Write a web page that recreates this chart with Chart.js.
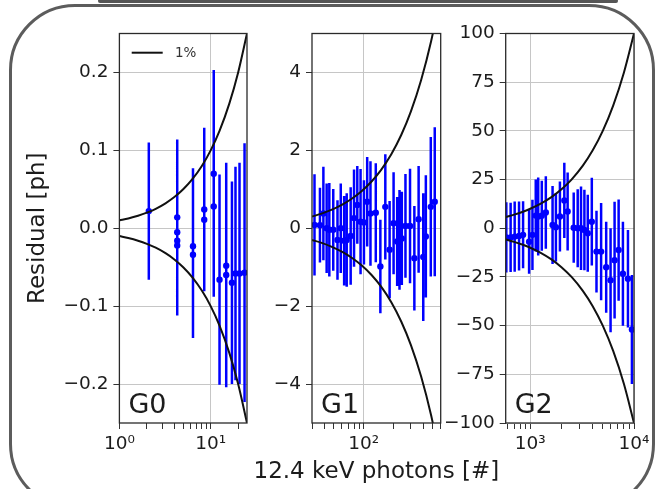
<!DOCTYPE html>
<html><head><meta charset="utf-8">
<script src="https://cdn.jsdelivr.net/npm/chart.js@4.4.1/dist/chart.umd.min.js"></script>
<style>
html,body{margin:0;padding:0;background:#fff;width:657px;height:489px;overflow:hidden;}
#wrap{position:relative;width:657px;height:489px;overflow:hidden;}
canvas{position:absolute;left:0;top:0;}
#frame{position:absolute;left:9px;top:4px;width:640px;height:500px;border:3px solid #5c5c5c;border-radius:66px;}
#topbar{position:absolute;left:98px;top:-1px;width:520px;height:4px;background:#555;border-radius:2px;}
</style></head><body>
<div id="wrap">
<div id="frame"></div><div id="topbar"></div>
<canvas id="c0" width="657" height="489"></canvas>
<canvas id="c1" width="657" height="489"></canvas>
<canvas id="c2" width="657" height="489"></canvas>
</div>
<script>
// ---------- G0 ----------
const g0X   = [2.1, 4.3, 4.3, 4.3, 4.3, 6.4, 6.4, 8.5, 8.5, 10.8, 10.8, 12.5, 14.8, 14.8, 17.1, 18.7, 20.7, 23.5];
const g0Y   = [0.022, 0.014, -0.005, -0.016, -0.022, -0.023, -0.034, 0.024, 0.011, 0.07, 0.028, -0.066, -0.048, -0.06, -0.07, -0.058, -0.058, -0.057];
const g0Err = [0.088, 0.1, 0.1, 0.095, 0.09, 0.1, 0.107, 0.105, 0.09, 0.133, 0.116, 0.135, 0.13, 0.144, 0.13, 0.137, 0.142, 0.166];
const g0CurveX  = [1, 1.25, 1.6, 2, 2.5, 3.2, 4, 5, 6.3, 8, 10, 12.5, 16, 20, 25];
const g0CurveUp = [0.01, 0.0125, 0.016, 0.02, 0.025, 0.032, 0.04, 0.05, 0.063, 0.08, 0.1, 0.125, 0.16, 0.2, 0.25];
const g0CurveLo = [-0.01, -0.0125, -0.016, -0.02, -0.025, -0.032, -0.04, -0.05, -0.063, -0.08, -0.1, -0.125, -0.16, -0.2, -0.25];
const g0XTicks  = [1, 2, 3, 4, 5, 6, 7, 8, 9, 10, 20];
const g0XLabels = ['10⁰', '', '', '', '', '', '', '', '', '10¹', ''];
const g0YTicks  = [-0.2, -0.1, 0, 0.1, 0.2];
const g0YLabels = ['−0.2', '−0.1', '0.0', '0.1', '0.2'];

// ---------- G1 ----------
const g1X   = [31.8, 36.1, 39.1, 42.2, 44.9, 49.2, 54.3, 58.6, 63.4, 67.3, 73.8, 79.8, 86.1, 92.9, 100.5, 108.4, 117,
               132.4, 147.3, 165.3, 182.7, 200.4, 217.8, 230, 242.7, 264.2, 293.8, 325, 358.9, 399.9, 424.6, 476.4, 522.4];
const g1Y   = [0.085, 0.08, 0.38, 0.0, -0.04, -0.04, -0.3, 0.0, -0.32, -0.3, -0.2, 0.26, 0.6, 0.17, 0.15, 0.68, 0.38,
               0.4, -0.98, 0.55, -0.55, 0.13, -0.34, -0.3, -0.26, 0.06, 0.06, -0.77, 0.23, -0.74, -0.21, 0.55, 0.68];
const g1Err = [1.3, 0.96, 1.2, 1.15, 1.2, 1.05, 1.02, 1.15, 1.15, 1.2, 1.25, 1.25, 1.0, 1.35, 1.08, 1.15, 1.34,
               1.27, 1.2, 1.35, 1.25, 1.31, 1.14, 1.28, 1.2, 1.33, 1.47, 1.34, 1.37, 1.64, 1.57, 1.79, 1.91];
const g1CurveX  = [30, 37.5, 47, 60, 75, 95, 120, 150, 190, 240, 300, 380, 480, 600];
const g1CurveUp = [0.3, 0.375, 0.47, 0.6, 0.75, 0.95, 1.2, 1.5, 1.9, 2.4, 3.0, 3.8, 4.8, 6.0];
const g1CurveLo = [-0.3, -0.375, -0.47, -0.6, -0.75, -0.95, -1.2, -1.5, -1.9, -2.4, -3.0, -3.8, -4.8, -6.0];
const g1XTicks  = [30, 40, 50, 60, 70, 80, 90, 100, 200, 300, 400, 500, 600];
const g1XLabels = ['', '', '', '', '', '', '', '10²', '', '', '', '', ''];
const g1YTicks  = [-4, -2, 0, 2, 4];
const g1YLabels = ['−4', '−2', '0', '2', '4'];

// ---------- G2 ----------
const g2X   = [588, 647, 708, 780, 853, 975, 1050, 1130, 1193, 1292, 1413, 1641, 1767, 1932, 2130, 2293,
               2624, 2867, 3086, 3326, 3583, 3920, 4350, 4820, 5395, 5945, 6500, 7110, 7820, 8745, 9550];
const g2Y   = [-4.7, -4.7, -4.3, -4.0, -3.4, -6.9, -3.4, 6.5, 6.0, 6.4, 8.1, 1.7, 0.5, 6.0, 14.3, 8.6,
               0.3, 0.0, 0.0, -0.9, -2.6, 3.4, -12, -12, -20, -26.7, -16.4, -11.2, -23.3, -25.9, -52];
const g2Err = [18, 17.8, 18, 17.7, 17.2, 16.5, 18, 18.5, 20, 18, 18.6, 20, 17.6, 18, 19.3, 20,
               18, 20, 21.5, 20.7, 19.8, 22.5, 21, 25, 23.4, 26.7, 30, 26, 26.7, 25, 28];
const g2CurveX  = [580, 700, 850, 1000, 1250, 1600, 2000, 2500, 3200, 4000, 5000, 6300, 8000, 10000];
const g2CurveUp = [5.8, 7, 8.5, 10, 12.5, 16, 20, 25, 32, 40, 50, 63, 80, 100];
const g2CurveLo = [-5.8, -7, -8.5, -10, -12.5, -16, -20, -25, -32, -40, -50, -63, -80, -100];
const g2XTicks  = [600, 700, 800, 900, 1000, 2000, 3000, 4000, 5000, 6000, 7000, 8000, 9000, 10000];
const g2XLabels = ['', '', '', '', '10³', '', '', '', '', '', '', '', '', '10⁴'];
const g2YTicks  = [-100, -75, -50, -25, 0, 25, 50, 75, 100];
const g2YLabels = ['−100', '−75', '−50', '−25', '0', '25', '50', '75', '100'];

const legendLabel = '1%';
const yTitle = 'Residual [ph]';
const xTitle = '12.4 keV photons [#]';

const FONT = 'DejaVu Sans';
const TXT = '#1c1c1c';
const BLUE = '#0000ff';
const GRID = '#c6c6c6';

function pts(xs, ys) { return xs.map((x, i) => ({x: x, y: ys[i]})); }
function errSegments(xs, ys, es) {
  const out = [];
  xs.forEach((x, i) => { out.push({x: x, y: ys[i] - es[i]}, {x: x, y: ys[i] + es[i]}, {x: x, y: null}); });
  return out;
}

const decoPlugin = {
  id: 'deco',
  afterDatasetsDraw(chart, args, opts) {
    const ctx = chart.ctx, a = chart.chartArea;
    ctx.save();
    ctx.strokeStyle = '#2a2a2a'; ctx.lineWidth = 1.3;
    ctx.strokeRect(a.left, a.top, a.right - a.left, a.bottom - a.top);
    ctx.fillStyle = TXT;
    ctx.font = '27px "' + FONT + '"';
    ctx.textBaseline = 'alphabetic'; ctx.textAlign = 'left';
    ctx.fillText(opts.label, a.left + 9, a.bottom - 9.7);
    if (opts.legend) {
      ctx.strokeStyle = '#111'; ctx.lineWidth = 2;
      ctx.beginPath(); ctx.moveTo(a.left + 12.3, a.top + 19.2); ctx.lineTo(a.left + 43.3, a.top + 19.2); ctx.stroke();
      ctx.font = '13.5px "' + FONT + '"'; ctx.fillStyle = '#333'; ctx.textBaseline = 'middle';
      ctx.fillText(opts.legend, a.left + 55.6, a.top + 19.5);
    }
    ctx.restore();
  },
  afterDraw(chart, args, opts) {
    if (!opts.xTitle) return;
    const ctx = chart.ctx, a = chart.chartArea;
    ctx.save();
    ctx.fillStyle = TXT;
    ctx.font = '23px "' + FONT + '"';
    ctx.textAlign = 'center'; ctx.textBaseline = 'alphabetic';
    ctx.fillText(opts.xTitle, (a.left + a.right) / 2, a.bottom + 55);
    ctx.restore();
  }
};

function makePanel(id, p) {
  return new Chart(document.getElementById(id), {
    type: 'line',
    data: { datasets: [
      {label: legendLabel, data: pts(p.cx, p.cu), borderColor: '#111', borderWidth: 2, pointRadius: 0, cubicInterpolationMode: 'monotone'},
      {label: '', data: pts(p.cx, p.cl), borderColor: '#111', borderWidth: 2, pointRadius: 0, cubicInterpolationMode: 'monotone'},
      {label: 'pts', data: pts(p.x, p.y), showLine: false, pointRadius: 3.2, pointBackgroundColor: BLUE, pointBorderWidth: 0, pointBorderColor: BLUE},
      {label: 'err', data: errSegments(p.x, p.y, p.e), borderColor: BLUE, borderWidth: 2.5, pointRadius: 0, spanGaps: false, borderCapStyle: 'butt'}
    ]},
    options: {
      responsive: false, animation: false, devicePixelRatio: 1,
      layout: {padding: {left: p.padL, right: p.padR, top: 33.5, bottom: 0}},
      plugins: {legend: {display: false}, tooltip: {enabled: false},
                deco: {label: p.name, legend: p.legend, xTitle: p.xTitle}},
      scales: {
        x: {
          type: 'logarithmic', position: 'bottom', min: p.xmin, max: p.xmax,
          afterBuildTicks: s => { s.ticks = p.xt.map(v => ({value: v})); },
          afterFit: s => { s.height = 66; s.paddingLeft = 0; s.paddingRight = 0; },
          ticks: {autoSkip: false, maxRotation: 0, minRotation: 0, padding: 4, color: TXT,
                  font: {family: FONT, size: 18.5}, callback: (v, i) => p.xl[i]},
          grid: {color: c => (p.xl[c.index] ? GRID : 'rgba(0,0,0,0)'), tickColor: '#333', tickLength: 6, lineWidth: 1},
          border: {display: false},
          title: {display: false}
        },
        y: {
          type: 'linear', position: 'left', min: p.ymin, max: p.ymax,
          afterBuildTicks: s => { s.ticks = p.yt.map(v => ({value: v})); },
          afterFit: s => { s.width = p.W; s.paddingTop = 0; s.paddingBottom = 0; },
          ticks: {autoSkip: false, padding: 5, color: TXT, font: {family: FONT, size: 18.5}, callback: (v, i) => p.yl[i]},
          grid: {color: GRID, tickColor: '#333', tickLength: 6, lineWidth: 1},
          border: {display: false},
          title: p.yTitle ? {display: true, text: p.yTitle, color: TXT, font: {family: FONT, size: 23}, padding: {top: 0, bottom: 0}} : {display: false}
        }
      }
    },
    plugins: [decoPlugin]
  });
}

makePanel('c0', {name: 'G0', legend: legendLabel, x: g0X, y: g0Y, e: g0Err, cx: g0CurveX, cu: g0CurveUp, cl: g0CurveLo,
  xmin: 1, xmax: 25, ymin: -0.25, ymax: 0.25, xt: g0XTicks, xl: g0XLabels, yt: g0YTicks, yl: g0YLabels,
  padL: 24.7, W: 94.7, padR: 410, yTitle: yTitle});
makePanel('c1', {name: 'G1', x: g1X, y: g1Y, e: g1Err, cx: g1CurveX, cu: g1CurveUp, cl: g1CurveLo,
  xmin: 30, xmax: 600, ymin: -5, ymax: 5, xt: g1XTicks, xl: g1XLabels, yt: g1YTicks, yl: g1YLabels,
  padL: 272, W: 40, padR: 216.3, xTitle: xTitle});
makePanel('c2', {name: 'G2', x: g2X, y: g2Y, e: g2Err, cx: g2CurveX, cu: g2CurveUp, cl: g2CurveLo,
  xmin: 580, xmax: 10000, ymin: -100, ymax: 100, xt: g2XTicks, xl: g2XLabels, yt: g2YTicks, yl: g2YLabels,
  padL: 445.7, W: 60, padR: 23});
</script>
</body></html>
